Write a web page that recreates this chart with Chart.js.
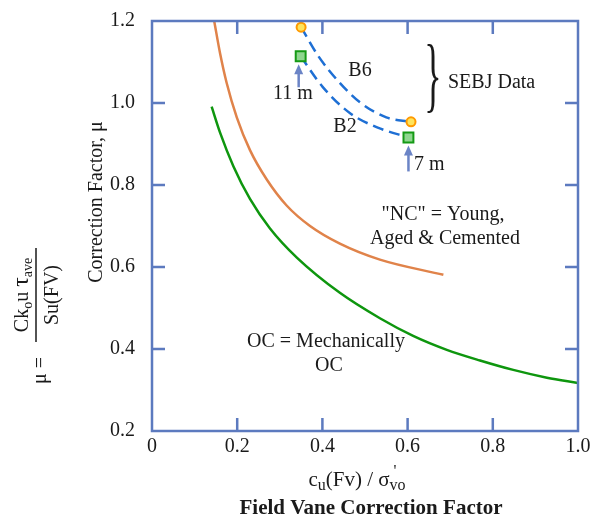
<!DOCTYPE html>
<html>
<head>
<meta charset="utf-8">
<script src="https://cdn.jsdelivr.net/npm/chart.js@4"></script>
<style>
  html, body { margin: 0; padding: 0; background: #fff; }
  canvas { display: block; }
</style>
</head>
<body>
<canvas id="chart" width="609" height="517"></canvas>
<script>
// curves
const ncX = [0.146, 0.160, 0.175, 0.199, 0.230, 0.269, 0.316, 0.371, 0.441, 0.535, 0.684];
const ncY = [1.200, 1.120, 1.050, 0.965, 0.885, 0.814, 0.750, 0.700, 0.657, 0.618, 0.581];
const ocX = [0.140, 0.160, 0.191, 0.230, 0.277, 0.340, 0.441, 0.535, 0.613, 0.692, 0.770, 0.848, 0.927, 1.000];
const ocY = [0.991, 0.927, 0.846, 0.766, 0.694, 0.623, 0.537, 0.475, 0.432, 0.398, 0.372, 0.349, 0.330, 0.317];
// SEBJ field data, B6 and B2
const b6X = [0.350, 0.390, 0.440, 0.490, 0.550, 0.608];
const b6Y = [1.185, 1.115, 1.050, 1.000, 0.965, 0.954];
const b2X = [0.349, 0.400, 0.465, 0.530, 0.602];
const b2Y = [1.114, 1.040, 0.975, 0.940, 0.916];
const xTicks = [0, 0.2, 0.4, 0.6, 0.8, 1.0];
const yTicks = [0.2, 0.4, 0.6, 0.8, 1.0, 1.2];

const SERIF = "'Liberation Serif', 'DejaVu Serif', serif";
const FRAME = "#5c7abf";
const pts = (xs, ys) => xs.map((x, i) => ({x: x, y: ys[i]}));
const endsOnly = (r) => (c) => (c.dataIndex === 0 || c.dataIndex === c.dataset.data.length - 1) ? r : 0;

// draws a row of text pieces, each with its own font and vertical shift
function drawRuns(ctx, runs, x, y, align) {
  let w = 0;
  runs.forEach(r => { ctx.font = r.font; if (!r.noAdvance) w += ctx.measureText(r.t).width; });
  let cx = align === "center" ? x - w / 2 : (align === "right" ? x - w : x);
  ctx.textAlign = "left";
  ctx.textBaseline = "alphabetic";
  runs.forEach(r => {
    ctx.font = r.font;
    ctx.fillText(r.t, cx + (r.dx || 0), y + (r.dy || 0));
    if (!r.noAdvance) cx += ctx.measureText(r.t).width;
  });
}

function arrowUp(ctx, x, yTip, yTail) {
  ctx.save();
  ctx.strokeStyle = "#6b84c6";
  ctx.fillStyle = "#6b84c6";
  ctx.lineWidth = 2.5;
  ctx.beginPath();
  ctx.moveTo(x, yTail);
  ctx.lineTo(x, yTip + 6);
  ctx.stroke();
  ctx.beginPath();
  ctx.moveTo(x, yTip);
  ctx.lineTo(x - 4.5, yTip + 10);
  ctx.lineTo(x + 4.5, yTip + 10);
  ctx.closePath();
  ctx.fill();
  ctx.restore();
}

const decor = {
  id: "decor",
  afterDraw(chart) {
    const ctx = chart.ctx;
    const a = chart.chartArea;
    const xs = chart.scales.x, ys = chart.scales.y;
    ctx.save();

    // frame with inward ticks
    ctx.strokeStyle = FRAME;
    ctx.lineWidth = 2.5;
    ctx.strokeRect(a.left, a.top, a.right - a.left, a.bottom - a.top);
    ctx.beginPath();
    xTicks.slice(1, -1).forEach(v => {
      const px = xs.getPixelForValue(v);
      ctx.moveTo(px, a.bottom); ctx.lineTo(px, a.bottom - 13);
      ctx.moveTo(px, a.top); ctx.lineTo(px, a.top + 13);
    });
    yTicks.slice(1, -1).forEach(v => {
      const py = ys.getPixelForValue(v);
      ctx.moveTo(a.left, py); ctx.lineTo(a.left + 13, py);
      ctx.moveTo(a.right, py); ctx.lineTo(a.right - 13, py);
    });
    ctx.stroke();

    ctx.fillStyle = "#1a1a1a";
    const f20 = "20px " + SERIF, f14 = "14px " + SERIF;

    // curve labels
    ctx.font = f20;
    ctx.textAlign = "center";
    ctx.fillText("B6", 360, 76);
    ctx.fillText("B2", 345, 132);
    ctx.fillText("11 m", 293, 99);
    ctx.textAlign = "left";
    ctx.fillText("7 m", 414, 170);
    ctx.textAlign = "center";
    ctx.fillText("\"NC\" = Young,", 443, 220);
    ctx.fillText("Aged & Cemented", 445, 244);
    ctx.fillText("OC = Mechanically", 326, 347);
    ctx.fillText("OC", 329, 371);
    ctx.textAlign = "left";
    ctx.fillText("SEBJ Data", 448, 88);

    // stretched brace
    ctx.save();
    ctx.translate(433, 80);
    ctx.scale(1, 2.3);
    ctx.font = "36px " + SERIF;
    ctx.textAlign = "center";
    ctx.textBaseline = "middle";
    ctx.fillText("}", 0, 0);
    ctx.restore();

    // depth arrows under the first and last B2 points
    const p11x = xs.getPixelForValue(b2X[0]), p11y = ys.getPixelForValue(b2Y[0]);
    arrowUp(ctx, p11x - 2, p11y + 8, p11y + 31);
    const p7x = xs.getPixelForValue(b2X[b2X.length - 1]), p7y = ys.getPixelForValue(b2Y[b2Y.length - 1]);
    arrowUp(ctx, p7x, p7y + 8, p7y + 34);

    // axis titles
    drawRuns(ctx, [
      {t: "c", font: "21px " + SERIF},
      {t: "u", font: "16px " + SERIF, dy: 4},
      {t: "(Fv) / σ", font: "21px " + SERIF},
      {t: "'", font: "16px " + SERIF, dy: -10, dx: 4, noAdvance: true},
      {t: "vo", font: "16px " + SERIF, dy: 4}
    ], 357, 486, "center");
    ctx.font = "bold 21px " + SERIF;
    ctx.textAlign = "center";
    ctx.fillText("Field Vane Correction Factor", 371, 514);

    ctx.save();
    ctx.translate(102, 202);
    ctx.rotate(-Math.PI / 2);
    ctx.font = f20;
    ctx.textAlign = "center";
    ctx.fillText("Correction Factor, μ", 0, 0);
    ctx.restore();

    // formula for mu, rotated
    ctx.save();
    ctx.translate(36, 295);
    ctx.rotate(-Math.PI / 2);
    ctx.strokeStyle = "#1a1a1a";
    ctx.lineWidth = 1.5;
    ctx.beginPath();
    ctx.moveTo(-47, 0); ctx.lineTo(47, 0);
    ctx.stroke();
    drawRuns(ctx, [
      {t: "Ck", font: f20},
      {t: "o", font: f14, dy: 4},
      {t: "u ", font: f20},
      {t: "τ", font: "24px " + SERIF},
      {t: "ave", font: f14, dy: 4}
    ], 0, -8, "center");
    drawRuns(ctx, [{t: "Su(FV)", font: f20}], 0, 22, "center");
    drawRuns(ctx, [{t: "μ =", font: f20}], -62, 10, "right");
    ctx.restore();

    ctx.restore();
  }
};

new Chart(document.getElementById("chart"), {
  type: "line",
  data: {
    datasets: [
      { data: pts(ncX, ncY), borderColor: "#e0834a", borderWidth: 2.5,
        pointRadius: 0, cubicInterpolationMode: "monotone" },
      { data: pts(ocX, ocY), borderColor: "#0e960e", borderWidth: 2.5,
        pointRadius: 0, cubicInterpolationMode: "monotone" },
      { data: pts(b6X, b6Y), borderColor: "#1e6fd4", borderWidth: 2.5,
        borderDash: [11, 6], cubicInterpolationMode: "monotone",
        pointStyle: "circle", pointRadius: endsOnly(4.5), pointBorderWidth: 2,
        pointBorderColor: "#ff9a00", pointBackgroundColor: "#ffe45c" },
      { data: pts(b2X, b2Y), borderColor: "#1e6fd4", borderWidth: 2.5,
        borderDash: [11, 6], cubicInterpolationMode: "monotone",
        pointStyle: "rect", pointRadius: endsOnly(7), pointBorderWidth: 2,
        pointBorderColor: "#159a15", pointBackgroundColor: "#8fd68f" }
    ]
  },
  options: {
    responsive: false,
    animation: false,
    layout: { padding: { top: 15, right: 31, left: 0, bottom: 0 } },
    plugins: { legend: { display: false }, tooltip: { enabled: false } },
    scales: {
      x: {
        type: "linear", min: 0, max: 1,
        afterFit: s => { s.height = 86; },
        grid: { display: false }, border: { display: false },
        afterBuildTicks: s => { s.ticks = xTicks.map(v => ({value: v})); },
        ticks: { padding: -4, color: "#1a1a1a", font: { family: SERIF, size: 20 },
                 callback: v => v === 0 ? "0" : v.toFixed(1) }
      },
      y: {
        type: "linear", min: 0.2, max: 1.2,
        afterFit: s => { s.width = 152; },
        grid: { display: false }, border: { display: false },
        afterBuildTicks: s => { s.ticks = yTicks.map(v => ({value: v})); },
        ticks: { padding: 9, color: "#1a1a1a", font: { family: SERIF, size: 20 },
                 callback: v => v.toFixed(1) }
      }
    }
  },
  plugins: [decor]
});
</script>
</body>
</html>
